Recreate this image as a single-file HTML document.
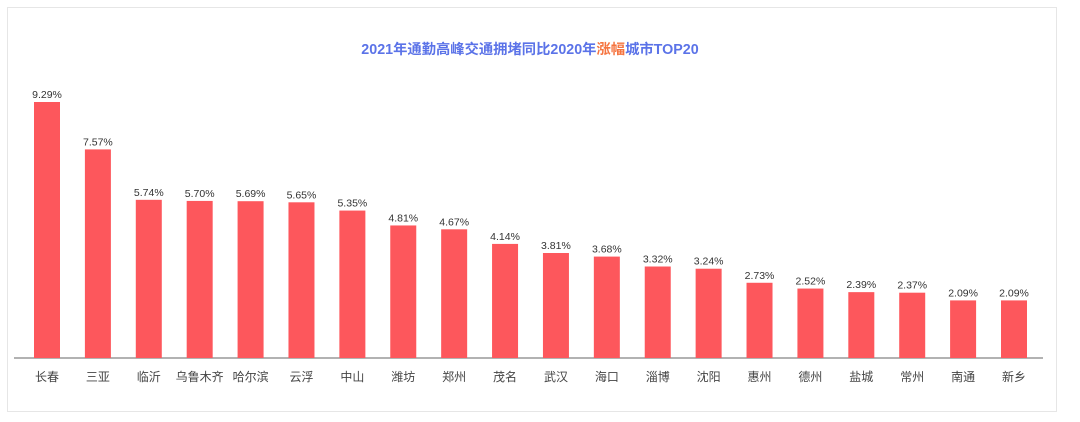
<!DOCTYPE html>
<html><head><meta charset="utf-8"><style>
html,body{margin:0;padding:0;background:#fff;}
body{width:1080px;height:417px;overflow:hidden;font-family:"Liberation Sans","Noto Sans CJK SC",sans-serif;}
</style></head><body>
<svg id="chart" width="1080" height="417" xmlns="http://www.w3.org/2000/svg">
<rect x="7.5" y="7.5" width="1049" height="404" fill="#fff" stroke="#e6e6e6"/>
<text x="530" y="54" text-anchor="middle" font-size="14.3" font-weight="bold" fill="#5b73e8" font-family="Liberation Sans, Noto Sans CJK SC, sans-serif">2021年通勤高峰交通拥堵同比2020年<tspan fill="#f5743f">涨幅</tspan>城市TOP20</text>
<line x1="14" y1="358" x2="1043" y2="358" stroke="#666" stroke-width="1"/>
<g id="bars"></g>
</svg>
<script>
const cities = ["长春","三亚","临沂","乌鲁木齐","哈尔滨","云浮","中山","潍坊","郑州","茂名","武汉","海口","淄博","沈阳","惠州","德州","盐城","常州","南通","新乡"];
const values = [9.29,7.57,5.74,5.70,5.69,5.65,5.35,4.81,4.67,4.14,3.81,3.68,3.32,3.24,2.73,2.52,2.39,2.37,2.09,2.09];
const valueLabels = ["9.29%","7.57%","5.74%","5.70%","5.69%","5.65%","5.35%","4.81%","4.67%","4.14%","3.81%","3.68%","3.32%","3.24%","2.73%","2.52%","2.39%","2.37%","2.09%","2.09%"];

const NS = "http://www.w3.org/2000/svg";
const baseY = 358, pxPerUnit = 256 / 9.29;
const x0 = 47, step = (1014 - 47) / 19, bw = 26;
function xScale(i){ return x0 + i * step; }
function yScale(v){ return baseY - v * pxPerUnit; }
const g = document.getElementById("bars");
cities.forEach((c, i) => {
  const cx = xScale(i), y = yScale(values[i]);
  const r = document.createElementNS(NS, "rect");
  
  
  r.setAttribute("x", cx - bw / 2); r.setAttribute("y", y);
  r.setAttribute("width", bw); r.setAttribute("height", baseY - y);
  r.setAttribute("fill", "#fd575c");
  g.appendChild(r);
  const t = document.createElementNS(NS, "text");
  
  
  t.setAttribute("x", cx); t.setAttribute("y", y - 4);
  t.setAttribute("text-anchor", "middle"); t.setAttribute("font-size", "10.5");
  t.setAttribute("fill", "#333");
  t.textContent = valueLabels[i];
  g.appendChild(t);
  const l = document.createElementNS(NS, "text");
  
  
  l.setAttribute("x", cx); l.setAttribute("y", 381);
  l.setAttribute("text-anchor", "middle"); l.setAttribute("font-size", "12");
  l.setAttribute("fill", "#444");
  l.textContent = c;
  g.appendChild(l);
});
</script>
</body></html>
